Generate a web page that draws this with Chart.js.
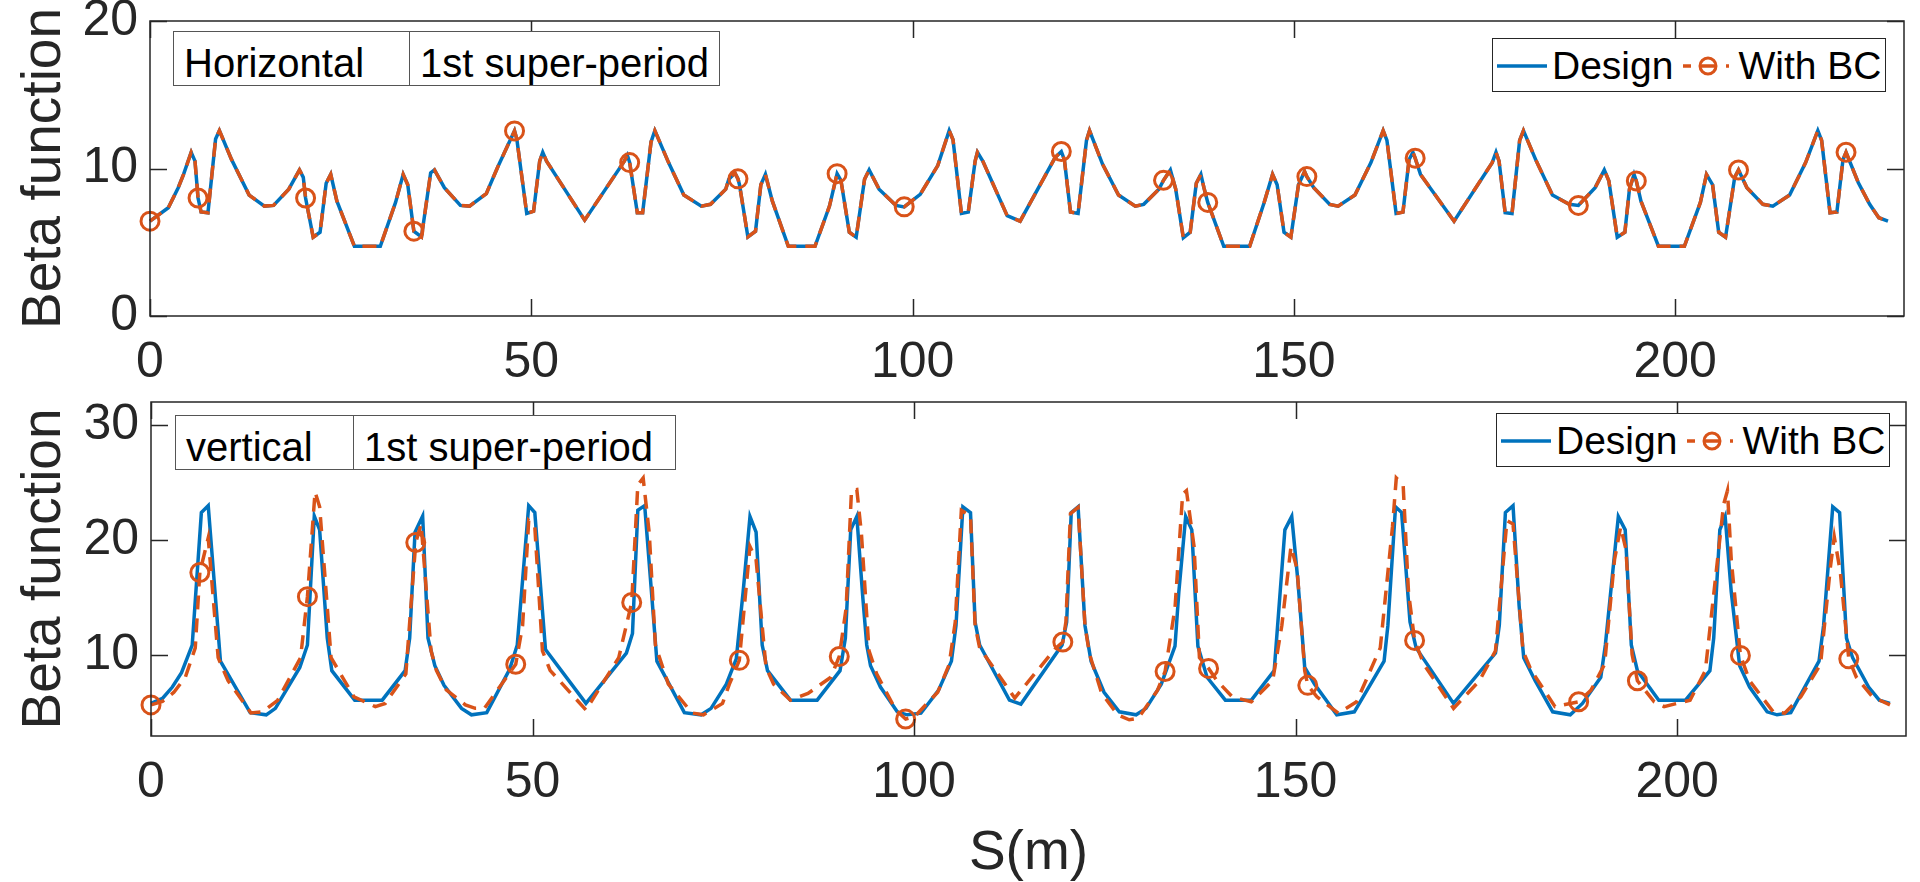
<!DOCTYPE html>
<html>
<head>
<meta charset="utf-8">
<title>Beta function</title>
<script src="https://cdn.jsdelivr.net/npm/chart.js@4.4.1/dist/chart.umd.min.js"></script>
<style>
  body { margin: 0; width: 1920px; height: 882px; overflow: hidden; position: relative; background: #fff;
         font-family: "Liberation Sans", Arial, Helvetica, sans-serif; }
  canvas { position: absolute; left: 0; }
  .tag { position: absolute; box-sizing: border-box; height: 55px; border: 1.5px solid #555; background: #fff;
         font-size: 40px; line-height: 47px; padding: 8px 0 0 10px; color: #000; white-space: nowrap; }
  .legend { position: absolute; box-sizing: border-box; width: 394px; height: 54px; border: 1.5px solid #262626;
            background: #fff; display: flex; align-items: flex-start; padding-top: 2px;
            font-size: 39px; line-height: 50px; color: #000; white-space: nowrap; }
  .legend svg { margin-top: 15px; }
</style>
</head>
<body>
<canvas id="chart-h" width="1920" height="390" style="top:0"></canvas>
<canvas id="chart-v" width="1920" height="492" style="top:390px"></canvas>

<div class="tag" style="left:173px; top:31px; width:238px">Horizontal</div>
<div class="tag" style="left:409px; top:31px; width:311px">1st super-period</div>
<div class="tag" style="left:175px; top:415px; width:179px">vertical</div>
<div class="tag" style="left:353px; top:415px; width:323px">1st super-period</div>
<div class="legend" id="legend-h" style="left:1492px; top:38px"></div>
<div class="legend" id="legend-v" style="left:1496px; top:413px"></div>

<script>
// --- data -----------------------------------------------------------------
const xTicks = [0, 50, 100, 150, 200];
const yTicksH = [0, 10, 20];
const yTicksV = [10, 20, 30];
const seriesNames = ['Design', 'With BC'];

// horizontal beta, S(m)
const sH = [0,2.4,3.7,4.4,5.4,5.9,6.3,6.7,7.6,8.6,
  9.1,10.7,13.0,15.0,16.2,18.2,19.6,20.1,20.4,21.4,
  22.3,23.1,23.7,24.5,26.8,30.2,32.2,33.2,33.8,34.6,
  35.6,36.8,37.3,38.6,40.7,41.9,44.1,45.6,47.8,48.1,
  49.4,50.3,51.1,51.5,52.0,57.0,62.2,62.6,62.9,63.9,
  64.6,65.7,66.2,68.0,70.0,72.3,73.5,75.5,75.9,76.7,
  77.1,77.3,78.4,79.4,80.1,80.7,81.6,83.7,87.2,89.1,
  90.1,90.6,91.7,92.6,93.7,94.3,95.6,97.8,98.9,101.0,
  103.3,104.8,105.3,106.4,107.3,108.2,108.5,109.2,112.4,114.1,
  118.7,119.5,119.9,120.7,121.7,122.8,123.2,124.9,127.0,129.2,
  130.3,132.3,132.9,133.8,134.5,135.5,136.4,137.2,137.8,138.2,
  138.7,140.8,144.2,146.1,147.2,147.8,148.7,149.6,150.6,151.4,
  151.7,152.6,154.7,155.8,158.0,160.1,161.7,162.2,163.4,164.3,
  165.1,165.6,165.9,166.6,171.0,176.0,176.5,176.9,177.7,178.6,
  179.6,180.1,181.7,183.9,186.1,187.3,189.5,190.7,191.3,192.4,
  193.4,194.0,194.6,194.9,195.5,197.8,201.2,203.3,204.1,204.9,
  205.7,206.6,207.8,208.3,209.4,211.5,212.8,215.0,217.1,218.7,
  219.2,220.3,221.2,222.0,222.4,224.0,225.5,226.7,227.9];
const betaHDesign = [6.43,7.34,8.7,9.6,11.1,10.5,8.0,7.05,7.0,12.0,
  12.57,10.6,8.2,7.45,7.5,8.6,9.9,9.4,8.0,5.34,
  5.68,9.0,9.6,7.8,4.73,4.73,7.7,9.6,8.9,5.75,
  5.36,9.7,9.9,8.7,7.5,7.45,8.3,10.1,12.55,12.0,
  6.95,7.1,10.5,11.1,10.5,6.5,10.5,10.9,10.4,7.0,
  7.0,11.8,12.57,10.4,8.2,7.45,7.57,8.6,9.27,9.7,
  9.3,8.9,5.36,5.75,8.9,9.6,7.8,4.73,4.73,7.45,
  9.65,9.2,5.68,5.34,9.27,9.9,8.6,7.5,7.4,8.25,
  10.2,12.57,11.95,6.95,7.05,10.5,11.1,10.5,6.8,6.43,
  10.75,11.15,10.6,7.05,6.95,11.9,12.57,10.3,8.2,7.45,
  7.57,8.6,9.2,9.9,8.6,5.3,5.68,9.0,9.6,8.7,
  7.7,4.73,4.73,7.7,9.6,8.9,5.68,5.34,8.9,9.8,
  9.45,8.7,7.57,7.45,8.2,10.4,12.57,11.9,6.95,7.05,
  10.6,11.1,10.7,9.6,6.43,10.4,11.1,10.5,7.0,6.95,
  11.9,12.57,10.6,8.2,7.57,7.5,8.7,9.9,9.16,5.34,
  5.68,8.6,9.6,9.16,7.8,4.73,4.73,7.7,9.6,8.9,
  5.68,5.34,9.4,9.9,8.7,7.57,7.45,8.2,10.4,12.57,
  11.9,7.0,7.05,10.6,11.1,9.05,7.57,6.66,6.43];
const betaHBC = [6.43,7.34,8.7,9.6,11.1,10.5,8.0,7.05,7.0,12.0,
  12.57,10.6,8.2,7.45,7.5,8.6,9.9,9.4,8.0,5.34,
  5.68,9.0,9.6,7.8,4.73,4.73,7.7,9.6,8.9,5.75,
  5.36,9.7,9.9,8.7,7.5,7.45,8.3,10.1,12.55,12.0,
  6.95,7.1,10.5,11.1,10.5,6.5,10.5,10.9,10.4,7.0,
  7.0,11.8,12.57,10.4,8.2,7.45,7.57,8.6,9.27,9.7,
  9.3,8.9,5.36,5.75,8.9,9.6,7.8,4.73,4.73,7.45,
  9.65,9.2,5.68,5.34,9.27,9.9,8.6,7.5,7.4,8.25,
  10.2,12.57,11.95,6.95,7.05,10.5,11.1,10.5,6.8,6.43,
  10.75,11.15,10.6,7.05,6.95,11.9,12.57,10.3,8.2,7.45,
  7.57,8.6,9.2,9.9,8.6,5.3,5.68,9.0,9.6,8.7,
  7.7,4.73,4.73,7.7,9.6,8.9,5.68,5.34,8.9,9.8,
  9.45,8.7,7.57,7.45,8.2,10.4,12.57,11.9,6.95,7.05,
  10.6,11.1,10.7,9.6,6.43,10.4,11.1,10.5,7.0,6.95,
  11.9,12.57,10.6,8.2,7.57,7.5,8.7,9.9,9.16,5.34,
  5.68,8.6,9.6,9.16,7.8,4.73,4.73,7.7,9.6,8.9,
  5.68,5.34,9.4,9.9,8.7,7.57,7.45,8.2,10.4,12.57,
  11.9,7.0,7.05,10.6,11.1,9.05,7.57,6.66,6.43];
const markH = [0,6.3,20.4,34.6,47.8,62.9,77.1,90.1,98.9,119.5,132.9,138.7,151.7,165.9,187.3,194.9,208.3,222.4];

// vertical beta, design
const sVDesign = [0,1.5,2.8,4.0,5.4,6.6,7.5,9.1,13.0,15.1,
  16.3,19.5,20.5,21.4,22.1,23.1,23.7,26.7,30.3,33.3,
  33.9,34.6,35.6,36.3,37.2,38.4,40.7,42.0,44.0,47.0,
  48.0,49.5,50.3,51.7,57.0,62.3,63.1,63.8,64.7,66.3,
  69.9,72.1,73.4,75.4,76.7,77.6,78.5,79.3,80.1,80.8,
  83.8,87.3,90.3,91.0,91.7,92.5,93.3,93.8,94.3,95.6,
  97.8,99.1,100.9,103.2,104.9,105.5,106.4,107.4,108.0,108.6,
  112.5,114.0,119.4,120.0,120.6,121.5,122.4,123.2,124.9,126.9,
  129.1,130.4,132.4,134.2,134.7,135.6,136.4,137.2,138.4,140.8,
  144.2,147.2,148.6,149.5,150.3,151.2,152.5,155.4,157.7,161.6,
  162.1,163.1,163.9,165.0,165.8,170.7,176.2,176.7,177.5,178.5,
  179.3,179.9,181.4,183.7,186.0,187.6,190.0,190.6,192.3,193.2,
  194.0,194.8,197.6,201.1,204.3,204.8,205.6,206.3,207.1,208.2,
  209.5,211.8,213.1,214.9,218.6,219.2,220.4,221.3,222.2,223.0,
  225.1,226.5,227.9];
const betaVDesign = [5.83,6.26,7.25,8.5,10.9,22.4,23.0,9.5,5.03,4.84,
  5.4,8.95,10.9,22.1,20.9,11.5,8.67,6.11,6.11,8.67,
  11.5,20.7,22.1,11.5,9.1,7.4,5.4,4.84,5.03,8.8,
  10.9,23.0,22.4,10.5,5.83,10.2,11.9,22.6,23.0,9.5,
  5.03,4.84,5.4,7.5,9.7,15.5,22.06,20.7,10.9,8.67,
  6.11,6.11,8.67,11.5,20.9,22.06,14.9,10.9,9.1,7.25,
  5.1,4.84,4.98,6.96,9.5,12.6,22.9,22.4,12.9,10.9,
  6.11,5.77,10.9,12.9,22.4,22.9,12.6,9.5,6.8,5.1,
  4.84,5.4,7.5,10.8,15.5,22.06,20.9,10.8,8.1,6.11,
  6.11,8.67,20.9,22.06,16.5,8.95,7.5,4.84,5.1,9.5,
  12.6,22.9,22.4,12.9,10.65,5.83,10.2,12.6,22.4,23.0,
  14.3,9.8,7.8,5.1,4.84,5.83,8.1,10.9,22.06,20.9,
  10.9,8.67,6.11,6.11,8.67,11.5,20.9,22.06,15.5,9.1,
  7.25,5.1,4.84,5.03,9.5,12.6,22.9,22.4,11.5,9.8,
  7.25,6.11,5.83];

// vertical beta, with BC
const sVBC = [0,1.5,3.0,4.5,5.8,6.4,7.5,8.8,10.1,13.1,
  14.6,16.6,19.6,20.5,21.5,22.1,22.7,23.6,26.6,29.4,
  30.7,33.4,34.2,34.7,35.4,36.7,37.4,38.7,41.2,42.5,
  43.7,47.8,48.7,49.5,50.3,51.3,52.3,57.0,61.3,63.0,
  63.8,64.5,65.3,66.1,67.8,70.9,72.4,74.9,75.8,77.1,
  78.5,79.3,80.6,81.6,83.8,86.1,89.1,90.2,91.1,91.8,
  92.5,93.1,94.1,95.1,97.6,98.9,100.1,103.1,104.6,105.4,
  106.2,107.4,108.0,108.6,113.2,118.6,119.5,119.9,120.5,121.5,
  122.4,123.0,124.6,126.7,128.2,129.4,131.9,132.9,134.2,135.2,
  135.7,136.7,137.4,138.6,139.7,141.7,144.2,147.0,148.2,149.4,
  150.2,151.2,151.6,152.8,155.6,158.0,161.1,162.7,163.2,164.1,
  164.8,165.6,166.8,170.7,174.1,176.2,177.7,178.5,179.8,180.9,
  184.0,187.1,188.7,190.5,191.8,192.6,193.3,194.1,194.8,197.0,
  198.3,201.7,203.7,205.3,206.1,206.6,207.1,208.3,209.5,212.6,
  214.1,216.2,218.8,220.1,220.6,221.4,222.5,223.5,225.6,227.9];
const betaVBC = [5.7,6.0,6.8,8.1,10.65,17.2,20.2,9.8,7.8,5.0,
  5.1,6.1,9.8,15.1,24.2,22.9,17.7,9.8,6.4,5.55,
  5.83,8.4,15.5,19.8,21.4,10.4,8.7,7.0,5.7,5.4,
  5.4,9.23,12.6,21.7,21.15,10.4,8.7,5.26,9.8,14.6,
  24.8,25.4,20.6,10.9,7.5,5.0,4.84,5.83,7.5,9.57,
  19.45,18.3,8.95,7.5,6.11,6.7,8.1,9.9,14.1,24.3,
  24.4,20.6,10.4,8.4,5.26,4.47,4.7,6.8,9.2,12.9,
  22.6,22.1,12.6,10.65,6.3,10.65,11.16,12.9,22.3,22.85,
  12.6,10.1,6.7,4.84,4.41,4.55,6.96,8.6,14.1,24.0,
  24.3,19.45,9.8,8.87,7.8,6.4,5.97,7.8,12.6,19.45,
  17.5,8.67,7.4,6.4,4.98,5.97,10.65,21.15,25.4,24.8,
  15.5,11.3,9.23,5.4,7.8,10.4,21.7,21.4,10.4,8.67,
  5.55,5.97,6.96,9.23,18.3,21.15,19.2,10.1,7.8,5.97,
  5.55,6.11,8.67,18.3,23.1,24.3,18.3,10.0,7.8,5.1,
  4.98,6.4,9.23,17.7,20.3,17.2,9.7,8.1,6.4,5.7];
const markV = [0,6.4,20.5,34.7,47.8,63.0,77.1,90.2,98.9,119.5,132.9,138.6,151.6,165.6,187.1,194.8,208.3,222.5];

// --- look ------------------------------------------------------------------
const BLUE = '#0072BD';
const ORANGE = '#D95319';
const AXIS = '#262626';
const TICK_LEN = 17;

Chart.defaults.font.family = '"Liberation Sans", Arial, Helvetica, sans-serif';
Chart.defaults.color = AXIS;

// MATLAB style box with inward ticks on all four sides
const boxTicks = {
  id: 'boxTicks',
  afterDraw(chart) {
    const { ctx, chartArea: a, scales: { x, y } } = chart;
    ctx.save();
    ctx.strokeStyle = AXIS;
    ctx.lineWidth = 1.5;
    ctx.strokeRect(a.left, a.top, a.right - a.left, a.bottom - a.top);
    ctx.beginPath();
    x.ticks.forEach(t => {
      const px = Math.round(x.getPixelForValue(t.value)) + 0.5;
      ctx.moveTo(px, a.bottom); ctx.lineTo(px, a.bottom - TICK_LEN);
      ctx.moveTo(px, a.top); ctx.lineTo(px, a.top + TICK_LEN);
    });
    y.ticks.forEach(t => {
      const py = Math.round(y.getPixelForValue(t.value)) + 0.5;
      ctx.moveTo(a.left, py); ctx.lineTo(a.left + TICK_LEN, py);
      ctx.moveTo(a.right, py); ctx.lineTo(a.right - TICK_LEN, py);
    });
    ctx.stroke();
    ctx.restore();
  }
};

function toPoints(s, b) { return s.map((v, i) => ({ x: v, y: b[i] })); }

function makeChart(id, cfg) {
  return new Chart(document.getElementById(id), {
    type: 'line',
    data: {
      datasets: [
        { label: seriesNames[0], data: toPoints(cfg.sD, cfg.bD), borderColor: BLUE, borderWidth: 3.5,
          pointRadius: 0, tension: 0, fill: false, clip: false, order: 1 },
        { label: seriesNames[1], data: toPoints(cfg.sB, cfg.bB), borderColor: ORANGE, borderWidth: 3.5,
          borderDash: [14, 9], tension: 0, fill: false, clip: false, order: 0,
          pointStyle: 'circle', pointBackgroundColor: 'rgba(0,0,0,0)', pointBorderColor: ORANGE,
          pointBorderWidth: 3, pointHoverRadius: 0,
          pointRadius: c => (cfg.marks.includes(c.raw.x) ? 9 : 0) }
      ]
    },
    options: {
      responsive: false,
      devicePixelRatio: 1,
      animation: false,
      events: [],
      layout: { padding: { left: 0, top: cfg.top, right: cfg.right, bottom: 0 } },
      plugins: { legend: { display: false }, tooltip: { enabled: false } },
      scales: {
        x: {
          type: 'linear', min: 0, max: 230,
          afterBuildTicks: s => { s.ticks = xTicks.map(v => ({ value: v })); },
          afterFit: s => { s.height = cfg.xHeight; s.paddingLeft = 0; s.paddingRight = 0; },
          grid: { display: false, drawTicks: false },
          border: { display: false },
          ticks: { font: { size: 50 }, color: AXIS, padding: 17, maxRotation: 0, autoSkip: false },
          title: { display: !!cfg.xTitle, text: cfg.xTitle || '', color: AXIS,
                   font: { size: 55, lineHeight: 1 }, padding: { top: 0, bottom: 1 } }
        },
        y: {
          type: 'linear', min: cfg.yMin, max: cfg.yMax,
          afterBuildTicks: s => { s.ticks = cfg.yTicks.map(v => ({ value: v })); },
          afterFit: s => { s.width = cfg.left; s.paddingTop = 0; s.paddingBottom = 0; },
          grid: { display: false, drawTicks: false },
          border: { display: false },
          ticks: { font: { size: 50 }, color: AXIS, padding: 12 },
          title: { display: true, text: 'Beta function', color: AXIS,
                   font: { size: 55, lineHeight: 1 }, padding: { top: 17, bottom: 0 } }
        }
      }
    },
    plugins: [boxTicks]
  });
}

makeChart('chart-h', { sD: sH, bD: betaHDesign, sB: sH, bB: betaHBC, marks: markH,
  yMin: 0, yMax: 20, yTicks: yTicksH, left: 150, right: 16, top: 21, xHeight: 390 - 316 });
makeChart('chart-v', { sD: sVDesign, bD: betaVDesign, sB: sVBC, bB: betaVBC, marks: markV,
  yMin: 3, yMax: 32, yTicks: yTicksV, left: 151, right: 14, top: 6, xHeight: 492 - 346, xTitle: 'S(m)' });

// legends
function legendHTML() {
  const solid = `<svg width="50" height="20" style="margin-left:4px"><line x1="0" y1="10" x2="50" y2="10" stroke="${BLUE}" stroke-width="3.5"/></svg>`;
  const dashed = `<svg width="50" height="20" style="margin-left:10px"><line x1="0" y1="10" x2="50" y2="10" stroke="${ORANGE}" stroke-width="3.5" stroke-dasharray="8 10 15 10 3 10"/><circle cx="25" cy="10" r="8" fill="none" stroke="${ORANGE}" stroke-width="3"/></svg>`;
  return `${solid}<span style="margin-left:5px">${seriesNames[0]}</span>${dashed}<span style="margin-left:5px">${seriesNames[1]}</span>`;
}
document.getElementById('legend-h').innerHTML = legendHTML();
document.getElementById('legend-v').innerHTML = legendHTML();
</script>
</body>
</html>
